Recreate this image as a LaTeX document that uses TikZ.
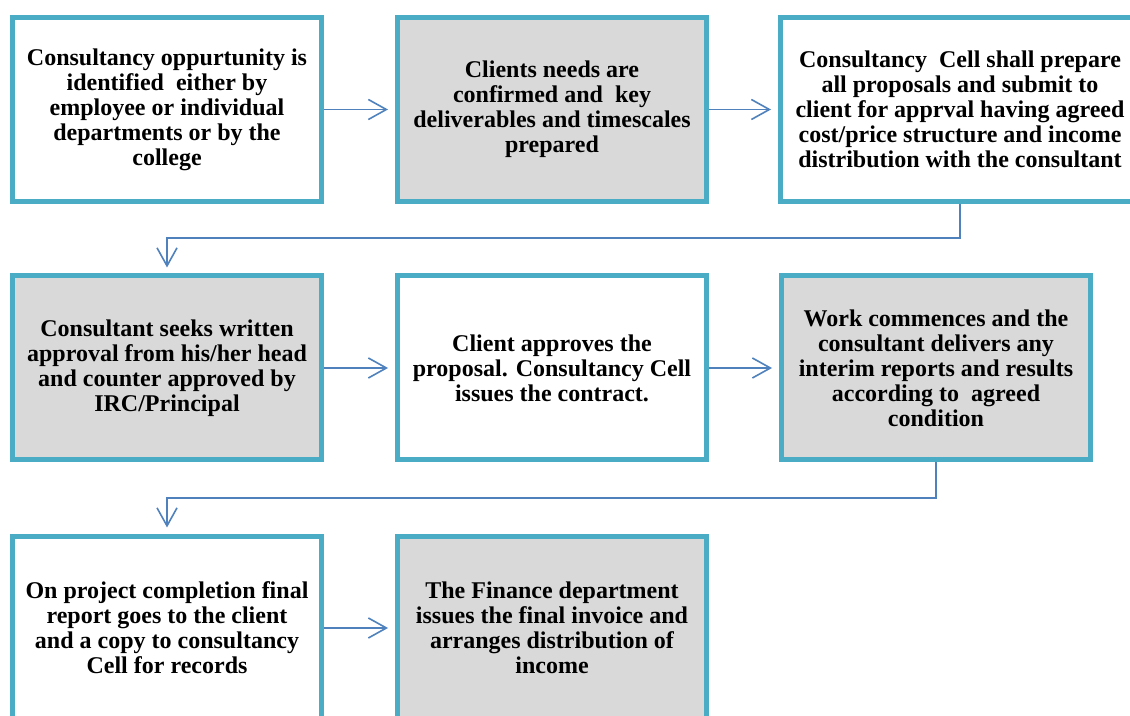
\documentclass[tikz,border=0pt]{standalone}
\usepackage{fontspec}
\setmainfont{Liberation Serif}[BoldFont={Liberation Serif Bold}]
\usetikzlibrary{arrows.meta, calc}
\definecolor{BoxBorder}{RGB}{75,172,198}
\definecolor{BoxShade}{RGB}{217,217,217}
\definecolor{FlowArrow}{RGB}{79,129,189}

\begin{document}
\begin{tikzpicture}[
        x=0.5pt, y=-0.5pt,
        stage/.style={draw=BoxBorder, line width=2.5pt, fill=white, align=center,
            minimum width=154.5pt, minimum height=92pt, inner sep=4pt,
            font=\rmfamily\fontsize{12pt}{12.5pt}\selectfont\bfseries},
        shaded/.style={stage, fill=BoxShade},
        flow/.style={draw=FlowArrow, line width=0.8pt,
            -{Straight Barb[length=9pt,width=10pt]}, shorten >=3.5pt}
    ]

    \useasboundingbox (0,0) rectangle (1130,716);
    \clip (0,0) rectangle (1130,716);

    % first row
    \node[stage] (idea) at (167,109.5) {Consultancy oppurtunity is\\identified\ \ either by\\employee or individual\\departments or by the\\college};
    \node[shaded] (needs) at (552,109.5) {Clients needs are\\confirmed and\ \ key\\deliverables and timescales\\prepared};
    \node[stage, minimum width=179.5pt] (proposal) at (960,109.5) {Consultancy\ \ Cell shall prepare\\all proposals and submit to\\client for apprval having agreed\\cost/price structure and income\\distribution with the consultant};

    % second row
    \node[shaded] (approval) at (167,368) {Consultant seeks written\\approval from his/her head\\and counter approved by\\IRC/Principal};
    \node[stage] (contract) at (552,368) {Client approves the\\proposal. Consultancy Cell\\issues the contract.};
    \node[shaded] (work) at (936,368) {Work commences and the\\consultant delivers any\\interim reports and results\\according to\ \ agreed\\condition};

    % third row
    \node[stage] (report) at (167,628) {On project completion final\\report goes to the client\\and a copy to consultancy\\Cell for records};
    \node[shaded] (invoice) at (552,628) {The Finance department\\issues the final invoice and\\arranges distribution of\\income};

    % elbows of the row changes
    \coordinate (turnA) at (960,238);
    \coordinate (turnB) at (936,498);

    \draw[flow] (idea) -- (needs);
    \draw[flow] (needs) -- (proposal);
    \draw[flow, shorten >=3pt] (proposal.south) -- (turnA) -| (approval.north);
    \draw[flow] (approval) -- (contract);
    \draw[flow] (contract) -- (work);
    \draw[flow, shorten >=3pt] (work.south) -- (turnB) -| (report.north);
    \draw[flow] (report) -- (invoice);

\end{tikzpicture}
\end{document}
